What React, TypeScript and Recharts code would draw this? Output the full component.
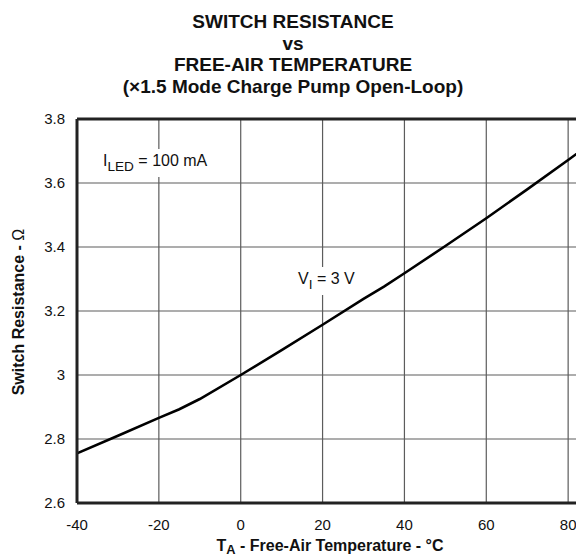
import React from "react";
import { LineChart, Line, XAxis, YAxis, CartesianGrid, ReferenceLine } from "recharts";

const temps = [-40, -30, -20, -15, -10, 0, 10, 20, 30, 35, 40, 50, 60, 70, 80, 90];
const resistance = [2.755, 2.81, 2.866, 2.893, 2.925, 3.0, 3.078, 3.157, 3.238, 3.276, 3.318, 3.403, 3.49, 3.58, 3.672, 3.765];
// the axis runs on to 100 °C, past the right edge of the picture
const xTicks = [-40, -20, 0, 20, 40, 60, 80];
const yTicks = [2.6, 2.8, 3, 3.2, 3.4, 3.6, 3.8];
const titleLines = ["SWITCH RESISTANCE", "vs", "FREE-AIR TEMPERATURE", "(\u00d71.5 Mode Charge Pump Open-Loop)"];

const font = "'Liberation Sans', Arial, sans-serif";

const data = temps.map((t, i) => ({ t, r: resistance[i] }));

const Sub = ({ children }: { children: React.ReactNode }) => (
  <span style={{ fontSize: "0.85em", position: "relative", top: 5 }}>{children}</span>
);

export default function App() {
  return (
    <div style={{ position: "relative", width: 576, height: 548, overflow: "hidden", fontFamily: font, background: "#fff" }}>
      {titleLines.map((s, i) => (
        <div
          key={s}
          style={{
            position: "absolute", left: 0, width: 570, top: 3 + i * 21.5,
            textAlign: "center", fontWeight: "bold", fontSize: 19, lineHeight: "21px", color: "#111",
          }}
        >
          {s}
        </div>
      ))}

      <LineChart width={660} height={548} data={data} margin={{ top: 111, right: 18, bottom: 0, left: 0 }}>
        <CartesianGrid stroke="#5c5c5c" strokeWidth={1.2} />
        <XAxis
          dataKey="t" type="number" domain={[-40, 100]} ticks={xTicks} height={53}
          tickLine={false} axisLine={{ stroke: "#222", strokeWidth: 3 }}
          tick={{ fill: "#111", fontSize: 15, fontFamily: font }} tickMargin={10}
          allowDataOverflow
        />
        <YAxis
          dataKey="r" type="number" domain={[2.6, 3.8]} ticks={yTicks} width={69}
          tickLine={false} axisLine={{ stroke: "#222", strokeWidth: 3 }}
          tick={{ fill: "#111", fontSize: 15, fontFamily: font }} tickMargin={6}
          tickFormatter={(v: number) => String(v)}
          allowDataOverflow
        />
        <ReferenceLine y={3.8} stroke="#222" strokeWidth={3} />
        <Line dataKey="r" stroke="#000" strokeWidth={2.6} dot={false} type="linear" isAnimationActive={false} />
      </LineChart>

      <div style={{ position: "absolute", left: 93, top: 141, fontSize: 16, background: "#fff", padding: "3px 2px 6px", lineHeight: "18px", color: "#111" }}>
        I<Sub>LED</Sub> = 100 mA
      </div>
      <div style={{ position: "absolute", left: 288, top: 259, fontSize: 16, background: "#fff", padding: "3px 2px 6px", lineHeight: "18px", color: "#111" }}>
        V<Sub>I</Sub> = 3 V
      </div>

      <div
        style={{
          position: "absolute", left: 11, top: 304, transform: "translate(-50%, -50%) rotate(-90deg)",
          whiteSpace: "nowrap", fontWeight: "bold", fontSize: 16, color: "#111",
        }}
      >
        Switch Resistance - <span style={{ fontWeight: "normal" }}>{"\u03a9"}</span>
      </div>
      <div
        style={{
          position: "absolute", left: 322, top: 529, transform: "translateX(-50%)",
          whiteSpace: "nowrap", fontWeight: "bold", fontSize: 16, lineHeight: "18px", color: "#111",
        }}
      >
        T<span style={{ fontSize: "0.8em", position: "relative", top: 3 }}>A</span> - Free-Air Temperature - {"\u00b0"}C
      </div>
    </div>
  );
}
